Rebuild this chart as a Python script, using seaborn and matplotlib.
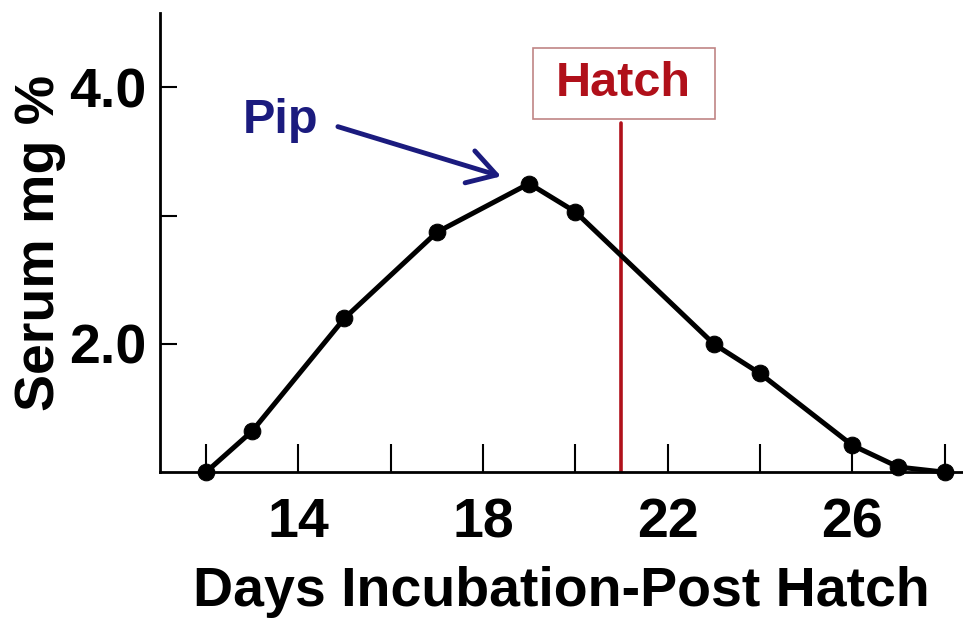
import matplotlib
matplotlib.use("Agg")
import matplotlib.pyplot as plt
from matplotlib.patches import Rectangle
import seaborn as sns
import pandas as pd

# values
days = [12, 13, 15, 17, 19, 20, 23, 24, 26, 27, 28]
serum = [1.0, 1.32, 2.2, 2.87, 3.25, 3.03, 2.0, 1.77, 1.21, 1.04, 1.0]
x_ticks = [12, 14, 16, 18, 20, 22, 24, 26, 28]
x_labels = ["", "14", "", "18", "", "22", "", "26", ""]
y_ticks = [2.0, 3.0, 4.0]
y_labels = ["2.0", "", "4.0"]
hatch_day = 21
hatch_top = 3.72

sns.set_theme(style="white")
plt.rcParams["font.family"] = ["Liberation Sans", "DejaVu Sans"]
plt.rcParams["font.weight"] = "bold"
plt.rcParams["text.color"] = "black"
plt.rcParams["axes.labelcolor"] = "black"

df = pd.DataFrame({"day": days, "serum": serum})

fig = plt.figure(figsize=(9.63, 6.18), dpi=100)
ax = fig.add_axes([0.166, 0.236, 0.834, 0.743])

sns.lineplot(data=df, x="day", y="serum", ax=ax, color="black", linewidth=3.6,
             marker="o", markersize=12, markeredgecolor="black", clip_on=False, zorder=3)

# hatch line + boxed label
ax.plot([hatch_day, hatch_day], [1.0, hatch_top], color="#b0101a", linewidth=2.6, zorder=2)
ax.add_patch(Rectangle((19.08, 3.75), 3.95, 0.56, facecolor="white",
                       edgecolor="#c08585", linewidth=1.2, clip_on=False, zorder=2))
ax.text(21.05, 4.03, "Hatch", color="#b0101a", fontsize=35, fontweight="bold",
        ha="center", va="center", zorder=3)

# pip arrow
ax.text(13.62, 3.74, "Pip", color="#1b1b7e", fontsize=35, fontweight="bold",
        ha="center", va="center")
ax.annotate("", xy=(18.45, 3.30), xytext=(14.8, 3.70),
            arrowprops=dict(arrowstyle="->,head_length=0.5,head_width=0.3",
                            color="#1b1b7e", lw=3.5, mutation_scale=40))

ax.set_xlim(11, 28.4)
ax.set_ylim(1.0, 4.58)
ax.set_xticks(x_ticks)
ax.set_xticklabels(x_labels)
ax.set_yticks(y_ticks)
ax.set_yticklabels(y_labels)
ax.tick_params(axis="x", bottom=True, direction="in", length=20, width=1.5, pad=18,
               labelsize=40, colors="black")
ax.tick_params(axis="y", left=True, direction="in", length=12, width=1.5, pad=10,
               labelsize=40, colors="black")
for t in ax.get_xticklabels() + ax.get_yticklabels():
    t.set_fontweight("bold")

ax.set_xlabel("Days Incubation-Post Hatch", fontsize=40, fontweight="bold", labelpad=12, color="black")
ax.set_ylabel("Serum mg %", fontsize=40, fontweight="bold", labelpad=2, color="black")

sns.despine(ax=ax)
ax.spines["left"].set_linewidth(2)
ax.spines["bottom"].set_linewidth(2)
ax.spines["left"].set_color("black")
ax.spines["bottom"].set_color("black")

fig.savefig("out.png", dpi=100)
